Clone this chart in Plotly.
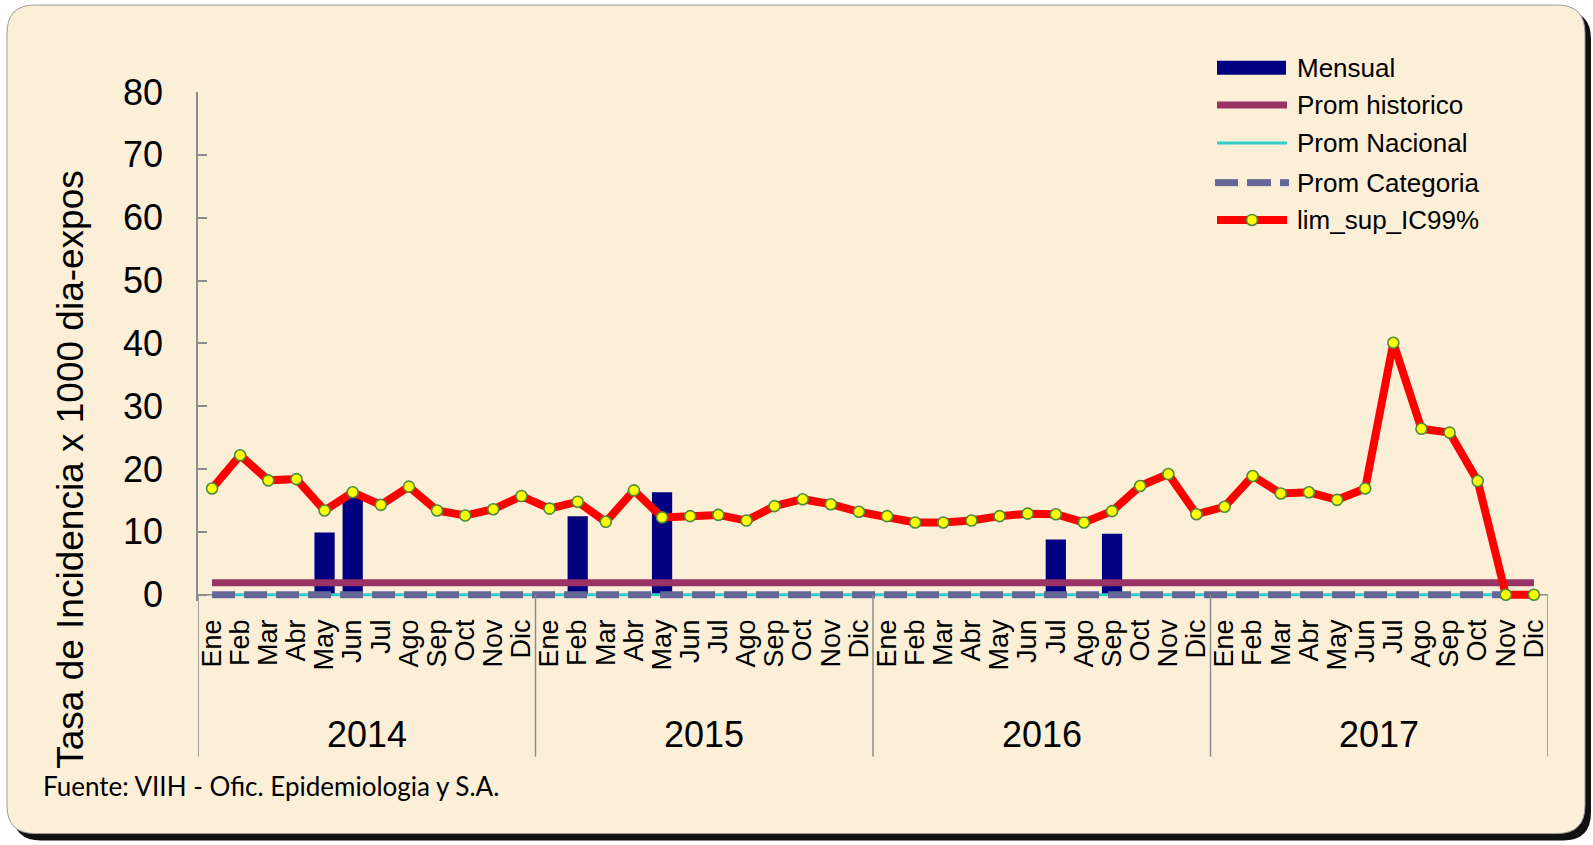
import plotly.graph_objects as go

# ---- data -------------------------------------------------------------
months = ["Ene", "Feb", "Mar", "Abr", "May", "Jun", "Jul", "Ago", "Sep", "Oct", "Nov", "Dic"]
years = ["2014", "2015", "2016", "2017"]

mensual_2014 = [0, 0, 0, 0, 9.9, 15.5, 0, 0, 0, 0, 0, 0]
mensual_2015 = [0, 12.5, 0, 0, 16.3, 0, 0, 0, 0, 0, 0, 0]
mensual_2016 = [0, 0, 0, 0, 0, 0, 8.8, 0, 9.7, 0, 0, 0]
mensual_2017 = [0, 0, 0, 0, 0, 0, 0, 0, 0, 0, 0, 0]

lim_sup_2014 = [16.9, 22.2, 18.2, 18.4, 13.4, 16.3, 14.3, 17.2, 13.4, 12.6, 13.6, 15.7]
lim_sup_2015 = [13.7, 14.8, 11.6, 16.6, 12.3, 12.5, 12.7, 11.8, 14.1, 15.2, 14.4, 13.2]
lim_sup_2016 = [12.5, 11.5, 11.5, 11.8, 12.5, 12.9, 12.8, 11.5, 13.3, 17.3, 19.2, 12.8]
lim_sup_2017 = [14.0, 18.9, 16.1, 16.3, 15.1, 16.9, 40.1, 26.4, 25.8, 18.1, 0, 0]

prom_historico_val = 1.9
prom_nacional_val = 0
prom_categoria_val = 0

series_names = ["Mensual", "Prom historico", "Prom Nacional", "Prom Categoria", "lim_sup_IC99%"]

# ---- derived ----------------------------------------------------------
mensual = mensual_2014 + mensual_2015 + mensual_2016 + mensual_2017
lim_sup = lim_sup_2014 + lim_sup_2015 + lim_sup_2016 + lim_sup_2017
n = len(mensual)
xs = list(range(n))
prom_historico = [prom_historico_val] * n
prom_nacional = [prom_nacional_val] * n
prom_categoria = [prom_categoria_val] * n
tick_text = [months[i % 12] for i in xs]

# ---- colours ----------------------------------------------------------
NAVY = "#000080"
PURPLE = "#993366"
CYAN = "#33CCCC"
SLATE = "#666699"
RED = "#FF0000"
YELLOW = "#FFFF00"
GREEN = "#4E8A3E"
AXIS = "#8C8C8C"
PARCH = "#FBEFD8"
FONT = "Liberation Sans, Arial, sans-serif"

# ---- canvas geometry (pixels) -----------------------------------------
# y range starts a little below zero so the zero-level lines are not clipped
Y_MIN, Y_MAX = -1, 80
W, H = 1593, 845
PL, PR, PT = 198, 1548, 92
ZERO_PX = 595
PB = ZERO_PX + (ZERO_PX - PT) / Y_MAX * (0 - Y_MIN)


def fx(px):
    return (px - PL) / (PR - PL)


def fy(py):
    return (PB - py) / (PB - PT)


def rounded_rect(x0, y0, x1, y1, r):
    pts = [
        ("M", [(x0 + r, y0)]),
        ("L", [(x1 - r, y0)]),
        ("Q", [(x1, y0), (x1, y0 + r)]),
        ("L", [(x1, y1 - r)]),
        ("Q", [(x1, y1), (x1 - r, y1)]),
        ("L", [(x0 + r, y1)]),
        ("Q", [(x0, y1), (x0, y1 - r)]),
        ("L", [(x0, y0 + r)]),
        ("Q", [(x0, y0), (x0 + r, y0)]),
    ]
    out = ""
    for cmd, ps in pts:
        out += cmd + " ".join(f"{fx(a):.5f},{fy(b):.5f}" for a, b in ps) + " "
    return out + "Z"


fig = go.Figure()

fig.add_trace(go.Bar(x=xs, y=mensual, name=series_names[0], marker_color=NAVY,
                     marker_line_width=0, width=0.72))
fig.add_trace(go.Scatter(x=xs, y=prom_historico, name=series_names[1], mode="lines",
                         line=dict(color=PURPLE, width=7)))
fig.add_trace(go.Scatter(x=xs, y=prom_nacional, name=series_names[2], mode="lines",
                         line=dict(color=CYAN, width=3)))
fig.add_trace(go.Scatter(x=xs, y=prom_categoria, name=series_names[3], mode="lines",
                         line=dict(color=SLATE, width=7, dash="23px,9px")))
fig.add_trace(go.Scatter(x=xs, y=lim_sup, name=series_names[4], mode="lines+markers",
                         line=dict(color=RED, width=8),
                         marker=dict(size=11, color=YELLOW, line=dict(color=GREEN, width=1.6))))

shapes = []
# card: shadow then parchment panel
shapes.append(dict(type="path", xref="paper", yref="paper", layer="below",
                   path=rounded_rect(13, 11, 1591, 841, 28),
                   fillcolor="#111111", line=dict(width=0)))
shapes.append(dict(type="path", xref="paper", yref="paper", layer="below",
                   path=rounded_rect(7, 5, 1585, 834, 28),
                   fillcolor=PARCH, line=dict(color="#9A9A9A", width=1)))

# category axis baseline at zero
shapes.append(dict(type="line", xref="x", yref="y", x0=-0.5, x1=n - 0.5, y0=0, y1=0,
                   layer="below", line=dict(color=AXIS, width=1.5)))

# year dividers on the category axis
for k in range(len(years) + 1):
    xd = k * 12 - 0.5
    shapes.append(dict(type="line", xref="x", yref="paper", x0=xd, x1=xd,
                       y0=fy(ZERO_PX), y1=fy(757), line=dict(color=AXIS, width=1.5)))

# legend swatches
leg_x0, leg_x1 = 1215, 1289
rows = [67.7, 105, 143, 182.7, 220]
shapes.append(dict(type="rect", xref="paper", yref="paper",
                   x0=fx(1217), x1=fx(1286), y0=fy(rows[0] - 7), y1=fy(rows[0] + 7),
                   fillcolor=NAVY, line=dict(width=0)))
shapes.append(dict(type="line", xref="paper", yref="paper",
                   x0=fx(leg_x0 + 2), x1=fx(leg_x1 - 2), y0=fy(rows[1]), y1=fy(rows[1]),
                   line=dict(color=PURPLE, width=7)))
shapes.append(dict(type="line", xref="paper", yref="paper",
                   x0=fx(1217), x1=fx(1287), y0=fy(rows[2]), y1=fy(rows[2]),
                   line=dict(color=CYAN, width=3)))
for a, b in [(1215, 1238), (1247, 1271), (1280, 1289)]:
    shapes.append(dict(type="line", xref="paper", yref="paper",
                       x0=fx(a), x1=fx(b), y0=fy(rows[3]), y1=fy(rows[3]),
                       line=dict(color=SLATE, width=7)))
shapes.append(dict(type="line", xref="paper", yref="paper",
                   x0=fx(leg_x0 + 2), x1=fx(leg_x1 - 2), y0=fy(rows[4]), y1=fy(rows[4]),
                   line=dict(color=RED, width=8)))
shapes.append(dict(type="circle", xref="paper", yref="paper",
                   x0=fx(1246.5), x1=fx(1257.5), y0=fy(rows[4] - 5.5), y1=fy(rows[4] + 5.5),
                   fillcolor=YELLOW, line=dict(color=GREEN, width=1.6)))

annotations = []
for name, yy in zip(series_names, rows):
    annotations.append(dict(text=name, xref="paper", yref="paper", x=fx(1295), y=fy(yy),
                            xanchor="left", yanchor="middle", showarrow=False,
                            font=dict(family=FONT, size=26, color="black")))
for k, yr in enumerate(years):
    annotations.append(dict(text=yr, xref="x", yref="paper", x=k * 12 + 5.5, y=fy(735),
                            xanchor="center", yanchor="middle", showarrow=False,
                            font=dict(family=FONT, size=36, color="black")))
annotations.append(dict(text="Tasa de Incidencia x 1000 dia-expos", xref="paper", yref="paper",
                        x=fx(71), y=fy(470), textangle=-90, showarrow=False,
                        xanchor="center", yanchor="middle",
                        font=dict(family=FONT, size=37, color="black")))
annotations.append(dict(text="Fuente: VIIH - Ofic. Epidemiologia y S.A.", xref="paper", yref="paper",
                        x=fx(41), y=fy(786), xanchor="left", yanchor="middle", showarrow=False,
                        font=dict(family="Lato, Open Sans, sans-serif", size=26, color="black")))

fig.update_layout(
    width=W, height=H,
    margin=dict(l=PL, r=W - PR, t=PT, b=H - PB, pad=0),
    paper_bgcolor="white",
    plot_bgcolor="rgba(0,0,0,0)",
    showlegend=False,
    shapes=shapes,
    annotations=annotations,
    font=dict(family=FONT, color="black"),
)
fig.update_xaxes(
    range=[-0.5, n - 0.5], tickmode="array", tickvals=xs, ticktext=tick_text,
    tickangle=-90, tickfont=dict(family=FONT, size=27, color="black"),
    showgrid=False, zeroline=False, showline=False,
    ticks="", ticklabelstandoff=12,
)
fig.update_yaxes(
    range=[Y_MIN, Y_MAX], tickvals=[0, 10, 20, 30, 40, 50, 60, 70, 80],
    tickfont=dict(family=FONT, size=36, color="black"),
    showgrid=False, zeroline=False, showline=True, linecolor=AXIS, linewidth=1.5,
    ticks="inside", ticklen=9, tickcolor=AXIS, tickwidth=1.5, ticklabelstandoff=26,
)

fig.write_html("out.html")
